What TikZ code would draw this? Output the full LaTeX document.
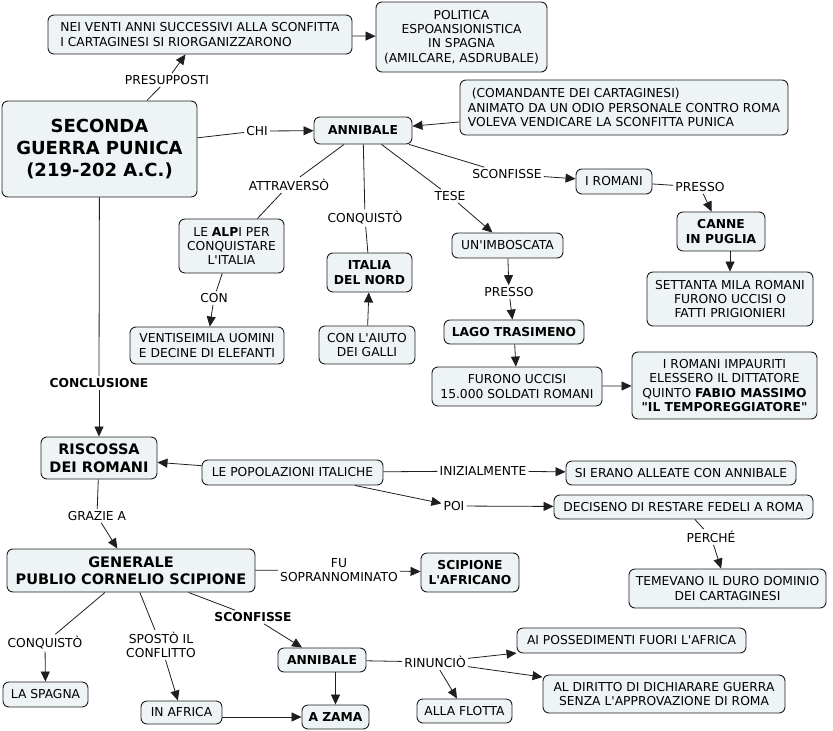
\documentclass[tikz,border=0pt]{standalone}
\usepackage{fontspec}
\setmainfont{DejaVu Sans}[Ligatures=TeXOff]
\usetikzlibrary{arrows.meta, positioning}
\definecolor{boxfill}{HTML}{EEF3F5}
\definecolor{boxline}{HTML}{1E1E1E}

\begin{document}
\begin{tikzpicture}[
  x=1pt, y=-1pt,
  dims/.style 2 args={minimum width=#1, minimum height=#2},
  concept/.style={rectangle, rounded corners=6pt, draw=boxline, fill=boxfill, line width=0.9pt, align=center, inner sep=2pt, font=\fontsize{12.3}{14.3}\selectfont},
  strong/.style={concept, font=\fontsize{12.3}{15}\selectfont\bfseries},
  big/.style={concept, font=\fontsize{14.5}{17.5}\selectfont\bfseries},
  headbox/.style={concept, font=\fontsize{18}{22}\selectfont\bfseries},
  verb/.style={inner sep=2pt, align=center, font=\fontsize{12.3}{14}\selectfont},
  link/.style={draw=boxline, line width=0.8pt},
  arrow/.style={link, -{Triangle[length=10pt,width=9pt]}}
]
\useasboundingbox (0,0) rectangle (833,731);

\node[headbox, dims={195}{96}] (main) at (99.5,149) {SECONDA\\GUERRA PUNICA\\(219-202 A.C.)};
\node[concept, dims={304}{39}, align=left] (nei) at (200,34.5) {NEI VENTI ANNI SUCCESSIVI ALLA SCONFITTA\\I CARTAGINESI SI RIORGANIZZARONO};
\node[concept, dims={171}{70}] (politica) at (461.5,37) {POLITICA\\ESPOANSIONISTICA\\IN SPAGNA\\(AMILCARE, ASDRUBALE)};
\node[strong, dims={98}{27}] (ann) at (363,130.5) {ANNIBALE};
\node[concept, dims={328}{55}, align=left] (coman) at (624,107.5) {\ (COMANDANTE DEI CARTAGINESI)\\ANIMATO DA UN ODIO PERSONALE CONTRO ROMA\\VOLEVA VENDICARE LA SCONFITTA PUNICA};
\node[concept, dims={76}{25}] (iromani) at (614,181.5) {I ROMANI};
\node[strong, dims={88}{39}] (canne) at (721,231.5) {CANNE\\IN PUGLIA};
\node[concept, dims={166}{54}] (settanta) at (730,299) {SETTANTA MILA ROMANI\\FURONO UCCISI O\\FATTI PRIGIONIERI};
\node[concept, dims={111}{25}] (imbosc) at (507.5,245.5) {UN'IMBOSCATA};
\node[strong, dims={140}{24}] (lago) at (514,332) {LAGO TRASIMENO};
\node[concept, dims={170}{39}] (uccisi) at (517,386.5) {FURONO UCCISI\\15.000 SOLDATI ROMANI};
\node[concept, dims={185}{67}] (fabio) at (724.5,385.5) {I ROMANI IMPAURITI\\ELESSERO IL DITTATORE\\QUINTO \textbf{FABIO MASSIMO}\\\textbf{"IL TEMPOREGGIATORE"}};
\node[concept, dims={105}{54}] (alpi) at (231.5,246) {LE \textbf{ALP}I PER\\CONQUISTARE\\L'ITALIA};
\node[strong, dims={85}{39}] (nord) at (369.5,272.5) {ITALIA\\DEL NORD};
\node[concept, dims={154}{37}] (elefanti) at (207,345.5) {VENTISEIMILA UOMINI\\E DECINE DI ELEFANTI};
\node[concept, dims={96}{38}] (galli) at (367,345) {CON L'AIUTO\\DEI GALLI};
\node[big, dims={116}{42}] (riscossa) at (99,458) {RISCOSSA\\DEI ROMANI};
\node[concept, dims={181}{25}] (popol) at (292.5,472.5) {LE POPOLAZIONI ITALICHE};
\node[concept, dims={230}{24}] (alleate) at (681,473) {SI ERANO ALLEATE CON ANNIBALE};
\node[concept, dims={259}{24}] (fedeli) at (683.5,507) {DECISENO DI RESTARE FEDELI A ROMA};
\node[concept, dims={197}{39}] (dominio) at (727.5,588.5) {TEMEVANO IL DURO DOMINIO\\DEI CARTAGINESI};
\node[big, dims={248}{43}] (generale) at (131,570.5) {GENERALE\\PUBLIO CORNELIO SCIPIONE};
\node[strong, dims={98}{39}] (scipafr) at (470,572.5) {SCIPIONE\\L'AFRICANO};
\node[concept, dims={85}{25}] (spagna) at (45.5,694.5) {LA SPAGNA};
\node[concept, dims={81}{23}] (africa) at (181.5,712.5) {IN AFRICA};
\node[strong, dims={88}{24}] (ann2) at (322,660) {ANNIBALE};
\node[strong, dims={67}{24}] (zama) at (335.5,717) {A ZAMA};
\node[concept, dims={95}{24}] (flotta) at (464.5,711) {ALLA FLOTTA};
\node[concept, dims={229}{25}] (possed) at (631.5,640.5) {AI POSSEDIMENTI FUORI L'AFRICA};
\node[concept, dims={242}{38}] (diritto) at (664,694) {AL DIRITTO DI DICHIARARE GUERRA\\SENZA L'APPROVAZIONE DI ROMA};

\node[verb] (presupp) at (167,80) {PRESUPPOSTI};
\node[verb] (chi) at (257,131) {CHI};
\node[verb] (attrav) at (289,185) {ATTRAVERSÒ};
\node[verb] (conq1) at (365,218) {CONQUISTÒ};
\node[verb] (tese) at (450,196) {TESE};
\node[verb] (sconf1) at (507,174) {SCONFISSE};
\node[verb] (presso1) at (700,187) {PRESSO};
\node[verb] (presso2) at (509,292) {PRESSO};
\node[verb] (con) at (214,298) {CON};
\node[verb, font=\fontsize{12.3}{14}\selectfont\bfseries] (conclus) at (99,383) {CONCLUSIONE};
\node[verb] (grazie) at (97,516) {GRAZIE A};
\node[verb] (iniz) at (483,471) {INIZIALMENTE};
\node[verb] (poi) at (454,506) {POI};
\node[verb] (perche) at (711,537) {PERCHÉ};
\node[verb] (soprann) at (339,570) {FU\\SOPRANNOMINATO};
\node[verb] (conq2) at (45,643) {CONQUISTÒ};
\node[verb] (spost) at (161,645) {SPOSTÒ IL\\CONFLITTO};
\node[verb, font=\fontsize{12.3}{14}\selectfont\bfseries] (sconf2) at (253,617) {SCONFISSE};
\node[verb] (rinunc) at (435,662) {RINUNCIÒ};

\draw[link] (main) -- (presupp);
\draw[arrow] (presupp) -- (nei);
\draw[arrow] (nei) -- (politica);
\draw[link] (main) -- (chi);
\draw[arrow] (chi) -- (ann);
\draw[arrow] (coman) -- (ann);
\draw[link] (ann) -- (attrav);
\draw[link] (attrav) -- (alpi);
\draw[link] (ann) -- (conq1);
\draw[link] (conq1) -- (nord);
\draw[link] (ann) -- (tese);
\draw[arrow] (tese) -- (imbosc);
\draw[link] (ann) -- (sconf1);
\draw[arrow] (sconf1) -- (iromani);
\draw[link] (iromani) -- (presso1);
\draw[arrow] (presso1) -- (canne);
\draw[arrow] (canne.south -| settanta) -- (settanta);
\draw[arrow] (imbosc) -- (presso2);
\draw[arrow] (presso2) -- (lago);
\draw[arrow] (lago) -- (uccisi);
\draw[arrow] (uccisi) -- (fabio);
\draw[link] (alpi) -- (con);
\draw[arrow] (con) -- (elefanti);
\draw[arrow] (galli) -- (nord);
\draw[link] (main) -- (conclus);
\draw[arrow] (conclus) -- (riscossa);
\draw[arrow] (popol) -- (riscossa);
\draw[link] (popol) -- (iniz);
\draw[arrow] (iniz) -- (alleate);
\draw[arrow] (popol) -- (poi);
\draw[arrow] (poi) -- (fedeli);
\draw[link] (fedeli) -- (perche);
\draw[arrow] (perche) -- (dominio);
\draw[link] (riscossa) -- (grazie);
\draw[arrow] (grazie) -- (generale);
\draw[link] (generale) -- (soprann);
\draw[arrow] (soprann) -- (scipafr);
\draw[link] (generale) -- (conq2);
\draw[arrow] (conq2) -- (spagna);
\draw[link] (generale) -- (spost);
\draw[arrow] (spost) -- (africa);
\draw[link] (generale) -- (sconf2);
\draw[arrow] (sconf2) -- (ann2);
\draw[arrow] (ann2.south -| zama) -- (zama);
\draw[arrow] (africa.east |- zama) -- (zama);
\draw[link] (ann2) -- (rinunc);
\draw[arrow] (rinunc) -- (possed);
\draw[arrow] (rinunc) -- (diritto);
\draw[arrow] (rinunc) -- (flotta);

\end{tikzpicture}
\end{document}
